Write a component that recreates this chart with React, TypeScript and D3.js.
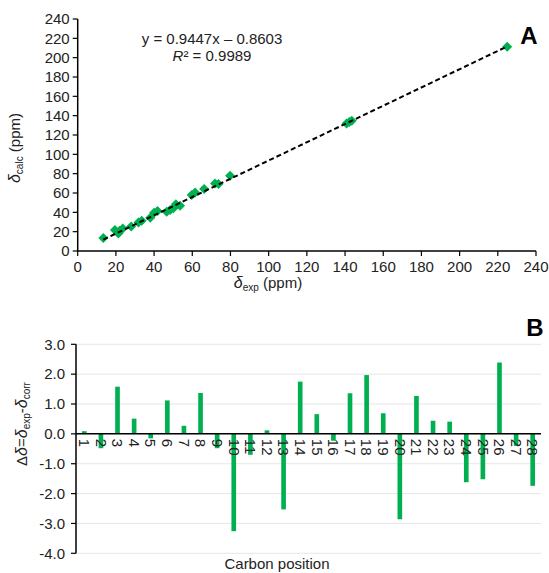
import React from "react";
import * as d3 from "d3";

// panel A: experimental vs calculated shifts (ppm)
const expShift = [13.4, 19.5, 21.3, 22, 23.6, 28, 31.8, 33.5, 38, 40, 41.8, 46.6, 48.4, 50.1, 51.4, 53.6, 59.7, 61.5, 66.2, 71.9, 73.7, 79.8, 140.8, 142.2, 143.5, 224.9];
const calcShift = [13.4, 21.6, 18.1, 21, 23.3, 25.4, 29.5, 31.3, 34.4, 39.6, 41.3, 40.7, 42.4, 44.1, 48.3, 46.9, 57.9, 60.6, 64.1, 69.9, 69.2, 77.8, 132, 133.5, 134.8, 211.3];
const slope = 0.9447;
const intercept = -0.8603;
const axisATicks = d3.range(0, 241, 20);

// panel B: residuals per carbon position
const positions = d3.range(1, 29).map(String);
const residuals = [0.09, -0.48, 1.58, 0.51, -0.15, 1.12, 0.27, 1.37, -0.48, -3.26, -0.7, 0.12, -2.53, 1.75, 0.66, -0.23, 1.36, 1.97, 0.69, -2.86, 1.27, 0.44, 0.41, -1.62, -1.52, 2.39, -0.4, -1.74];
const axisBTicks = [3, 2, 1, 0, -1, -2, -3, -4];

const green = "#00b050";
const font = "'Liberation Sans', Arial, sans-serif";
const fs = 15;

export default function App() {
  const width = 549;
  const height = 573;

  const xA = d3.scaleLinear().domain([0, 240]).range([77.7, 536]);
  const yA = d3.scaleLinear().domain([0, 240]).range([251, 19]);

  const xB = d3.scaleBand().domain(positions).range([76, 541]).paddingInner(0.72).paddingOuter(0.36);
  const yB = d3.scaleLinear().domain([-4, 3]).range([553.3, 344.3]);

  const diamond = d3.symbol().type(d3.symbolSquare).size(50)();
  const fitX = [d3.min(expShift)!, d3.max(expShift)!];

  return (
    <svg width={width} height={height} style={{ position: "absolute", left: 0, top: 0, fontFamily: font }}>
      {/* ---------- panel A ---------- */}
      <g>
        {expShift.map((x, i) => (
          <path key={i} d={diamond!} fill={green} transform={`translate(${xA(x)},${yA(calcShift[i])}) rotate(45)`} />
        ))}
        <line
          x1={xA(fitX[0])}
          y1={yA(slope * fitX[0] + intercept)}
          x2={xA(fitX[1])}
          y2={yA(slope * fitX[1] + intercept)}
          stroke="#000"
          strokeWidth={2}
          strokeDasharray="5,3"
        />
        <line x1={xA(0)} x2={xA(0)} y1={yA(240)} y2={yA(0)} stroke="#000" strokeWidth={1.5} />
        <line x1={xA(0)} x2={xA(240)} y1={yA(0)} y2={yA(0)} stroke="#000" strokeWidth={1.5} />
        {axisATicks.map((t) => (
          <g key={"y" + t}>
            <line x1={xA(0) - 5} x2={xA(0)} y1={yA(t)} y2={yA(t)} stroke="#000" strokeWidth={1.2} />
            <text x={xA(0) - 8} y={yA(t)} dy="0.35em" textAnchor="end" fontSize={fs} fill="#222">{t}</text>
          </g>
        ))}
        {axisATicks.map((t) => (
          <g key={"x" + t}>
            <line x1={xA(t)} x2={xA(t)} y1={yA(0)} y2={yA(0) + 5} stroke="#000" strokeWidth={1.2} />
            <text x={xA(t)} y={yA(0) + 21} textAnchor="middle" fontSize={fs} fill="#222">{t}</text>
          </g>
        ))}
        <text x={268} y={288} textAnchor="middle" fontSize={fs} fill="#222">
          <tspan fontStyle="italic" fontSize={16}>δ</tspan>
          <tspan fontSize={10} dy={3}>exp</tspan>
          <tspan dy={-3}> (ppm)</tspan>
        </text>
        <text transform="translate(20,148) rotate(-90)" textAnchor="middle" fontSize={fs} fill="#222">
          <tspan fontStyle="italic" fontSize={16}>δ</tspan>
          <tspan fontSize={10} dy={3}>calc</tspan>
          <tspan dy={-3}> (ppm)</tspan>
        </text>
        <text x={212} y={44} textAnchor="middle" fontSize={fs} fill="#222">y = 0.9447x – 0.8603</text>
        <text x={212} y={61} textAnchor="middle" fontSize={fs} fill="#222">
          <tspan fontStyle="italic">R</tspan>² = 0.9989
        </text>
        <text x={529} y={44} textAnchor="middle" fontSize={24} fontWeight="bold" fill="#000">A</text>
      </g>

      {/* ---------- panel B ---------- */}
      <g>
        {axisBTicks.map((t) => (
          <line key={"g" + t} x1={76} x2={541} y1={yB(t)} y2={yB(t)} stroke="#e6e6e6" strokeWidth={1} />
        ))}
        {residuals.map((v, i) => (
          <rect
            key={i}
            x={xB(positions[i])}
            width={xB.bandwidth()}
            y={yB(Math.max(0, v))}
            height={Math.abs(yB(v) - yB(0))}
            fill={green}
          />
        ))}
        <line x1={76} x2={541} y1={yB(0)} y2={yB(0)} stroke="#000" strokeWidth={1.5} />
        <line x1={76} x2={76} y1={yB(3)} y2={yB(-4)} stroke="#000" strokeWidth={1.5} />
        {axisBTicks.map((t) => (
          <g key={"b" + t}>
            <line x1={71} x2={76} y1={yB(t)} y2={yB(t)} stroke="#000" strokeWidth={1.2} />
            <text x={65} y={yB(t)} dy="0.35em" textAnchor="end" fontSize={fs} fill="#222">{d3.format(".1f")(t).replace("−", "-")}</text>
          </g>
        ))}
        {positions.map((p) => (
          <text
            key={"c" + p}
            transform={`translate(${xB(p)! + xB.bandwidth() / 2},${yB(0) + 5}) rotate(90)`}
            dy="0.35em"
            textAnchor="start"
            fontSize={fs}
            fill="#222"
          >
            {p}
          </text>
        ))}
        <text x={277} y={569} textAnchor="middle" fontSize={fs} fill="#222">Carbon position</text>
        <text transform="translate(27,424) rotate(-90)" textAnchor="middle" fontSize={fs} fill="#222">
          Δ<tspan fontStyle="italic" fontSize={16}>δ</tspan>=<tspan fontStyle="italic" fontSize={16}>δ</tspan>
          <tspan fontSize={10} dy={3}>exp</tspan>
          <tspan dy={-3}>-</tspan>
          <tspan fontStyle="italic" fontSize={16}>δ</tspan>
          <tspan fontSize={10} dy={3}>corr</tspan>
        </text>
        <text x={535} y={336} textAnchor="middle" fontSize={24} fontWeight="bold" fill="#000">B</text>
      </g>
    </svg>
  );
}
